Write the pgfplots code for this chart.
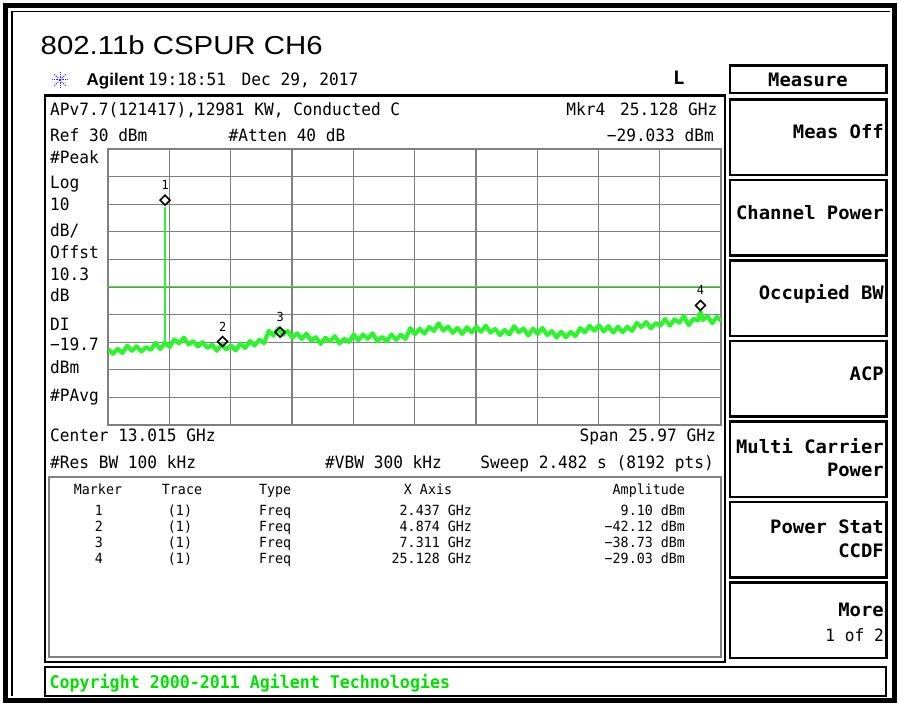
\documentclass[border=0pt]{standalone}
\usepackage{pgfplots}
\pgfplotsset{compat=1.18}
\usepackage{fontspec}
\setmainfont{Liberation Sans}
\newfontfamily\agfont[FakeStretch=0.95]{DejaVu Sans Mono}
\newfontfamily\agkey[FakeStretch=1.02]{DejaVu Sans Mono}
\newfontfamily\titlefont[FakeStretch=1.13]{Liberation Sans}
\definecolor{trace}{RGB}{45,245,45}
\definecolor{gridc}{RGB}{128,128,128}
\definecolor{cgreen}{RGB}{0,225,0}
\newcommand\fA{\agfont\fontsize{17bp}{20bp}\selectfont}
\newcommand\fT{\agfont\fontsize{14bp}{17bp}\selectfont}
\newcommand\fM{\agfont\fontsize{12.5bp}{15bp}\selectfont}
\newcommand\fK{\agkey\bfseries\fontsize{18.5bp}{21bp}\selectfont}
\newcommand\fC{\agfont\bfseries\fontsize{17.5bp}{20bp}\selectfont}
\tikzset{lw/.style={anchor=base west,inner sep=0pt},
         le/.style={anchor=base east,inner sep=0pt},
         lc/.style={anchor=base,inner sep=0pt}}
\begin{document}
\begin{tikzpicture}
\begin{axis}[at={(108.3bp,-425bp)}, anchor=south west, scale only axis,
  width=612.7bp, height=276bp,
  xmin=0.03, xmax=26.0, ymin=-70, ymax=30,
  xtick={2.627,5.224,7.821,10.418,13.015,15.612,18.209,20.806,23.403},
  ytick={-60,-50,-40,-30,-20,-10,0,10,20},
  xticklabels={}, yticklabels={}, major tick length=0pt,
  grid=major, major grid style={gridc, line width=1.3bp},
  axis line style={gridc, line width=2bp}]
% display line
\addplot[trace, line width=1.3bp] coordinates {(0.03,-19.7) (26.0,-19.7)};
% markers (diamonds, drawn above the marker point)
\addplot[only marks, mark=square, mark size=3.5bp,
  mark options={yshift=6.5bp, rotate=45, draw=black, fill=none, line width=1.6bp}]
  coordinates {(2.437,9.10) (4.874,-42.12) (7.311,-38.73) (25.128,-29.03)};
% carrier at marker 1
\addplot[trace, line width=1.4bp] coordinates {(2.437,-40.6) (2.437,9.10)};
% trace
\addplot[trace, line width=4.2bp, line join=round] coordinates {
(0.03,-42.6) (0.23,-44.2) (0.43,-42.4) (0.63,-43.9) (0.83,-41.3) (1.03,-43.1) (1.23,-41.5) (1.43,-43.4)
(1.63,-41.8) (1.83,-42.8) (2.03,-40.2) (2.23,-42.5) (2.43,-40.2) (2.63,-41.7) (2.83,-39.0) (3.03,-40.4)
(3.23,-38.3) (3.43,-40.8) (3.63,-39.6) (3.83,-41.6) (4.03,-40.0) (4.23,-42.1) (4.43,-40.9) (4.63,-43.1)
(4.83,-40.8) (5.03,-42.6) (5.23,-41.2) (5.43,-43.0) (5.63,-40.5) (5.83,-42.1) (6.03,-39.6) (6.23,-41.2)
(6.43,-39.1) (6.63,-40.3) (6.83,-35.9) (7.03,-37.6) (7.23,-35.0) (7.43,-37.3) (7.63,-35.9) (7.83,-38.4)
(8.03,-36.8) (8.23,-38.8) (8.43,-36.9) (8.63,-39.4) (8.83,-38.2) (9.03,-40.6) (9.23,-38.4) (9.43,-39.7)
(9.63,-37.8) (9.83,-40.5) (10.03,-38.8) (10.23,-39.9) (10.43,-37.2) (10.63,-39.3) (10.83,-37.2) (11.03,-38.8)
(11.23,-36.8) (11.43,-39.6) (11.63,-38.1) (11.83,-39.7) (12.03,-37.2) (12.23,-39.1) (12.43,-37.3) (12.63,-38.8)
(12.83,-34.9) (13.03,-37.1) (13.23,-35.1) (13.43,-36.9) (13.63,-34.5) (13.83,-35.9) (14.03,-33.2) (14.23,-35.8)
(14.43,-34.3) (14.63,-36.6) (14.83,-34.8) (15.03,-37.0) (15.23,-34.6) (15.43,-36.4) (15.63,-34.4) (15.83,-36.2)
(16.03,-34.0) (16.23,-36.5) (16.43,-35.2) (16.63,-37.4) (16.83,-35.6) (17.03,-37.2) (17.23,-34.2) (17.43,-36.4)
(17.63,-35.0) (17.83,-37.6) (18.03,-35.1) (18.23,-37.0) (18.43,-34.8) (18.63,-37.4) (18.83,-36.0) (19.03,-38.3)
(19.23,-36.2) (19.43,-38.2) (19.63,-36.3) (19.83,-37.8) (20.03,-34.9) (20.23,-36.4) (20.43,-34.1) (20.63,-35.8)
(20.83,-33.9) (21.03,-36.1) (21.23,-34.2) (21.43,-36.5) (21.63,-34.4) (21.83,-36.4) (22.03,-34.4) (22.23,-35.9)
(22.43,-33.0) (22.63,-34.5) (22.83,-32.7) (23.03,-35.0) (23.23,-33.1) (23.43,-34.0) (23.63,-31.6) (23.83,-34.0)
(24.03,-31.7) (24.23,-32.9) (24.43,-30.6) (24.63,-33.8) (24.83,-31.5) (25.03,-32.1) (25.13,-29.0) (25.23,-31.9)
(25.43,-30.6) (25.63,-33.1) (25.83,-30.8) (26.0,-32.3)};
% marker numbers
\addplot[draw=none, mark=none, nodes near coords, point meta=explicit symbolic,
  every node near coord/.append style={anchor=center, yshift=21.5bp, font=\fM, text=black, inner sep=0pt}]
  table[meta=l] {
x y l
2.437 9.10 1
4.874 -42.12 2
7.311 -38.73 3
25.128 -29.03 4
};
\end{axis}
\begin{scope}[x=1bp,y=-1bp]
\path[use as bounding box] (0,0) rectangle (899,707);
% outer frame
\draw[line width=4.5bp] (5.5,5.5) rectangle (894.5,700.5);
\draw[line width=1.5bp] (12,11.5) -- (12,695.5);
\draw[line width=1.5bp] (12,11.5) -- (890,11.5);
% title
\node[lw, font=\titlefont\fontsize{26bp}{30bp}\selectfont] at (40.5,55) {802.11b CSPUR CH6};
% agilent star
\foreach \a in {0,45,...,315} \draw[blue!85, line width=1bp, dash pattern=on 1.4bp off 0.9bp] (60,80) -- ++(\a:8);
\node[lw, font=\bfseries\fontsize{17bp}{20bp}\selectfont] at (86.5,86) {Agilent};
\node[lw, font=\fA] at (148,86) {19:18:51\hspace{6bp} Dec 29, 2017};
\node[lw, font=\fK] at (673,85) {L};
% measure header box
\draw[line width=2.5bp] (730,65.5) rectangle (886.5,93);
\node[lc, font=\fK] at (808,86.5) {Measure};
% main panel
\draw[line width=2.5bp] (45,95.5) rectangle (725,662);
\node[lw, font=\fA] at (50,115.5) {APv7.7(121417),12981 KW, Conducted C};
\node[le, font=\fA] at (717.5,115.5) {Mkr4\hspace{5bp} 25.128 GHz};
\node[lw, font=\fA] at (50,141.5) {Ref 30 dBm};
\node[lw, font=\fA] at (228.5,141.5) {\#Atten 40 dB};
\node[le, font=\fA] at (714,141.5) {−29.033 dBm};
% left column
\node[lw, font=\fA] at (50,163.3) {\#Peak};
\node[lw, font=\fA] at (50,188.3) {Log};
\node[lw, font=\fA] at (50,210) {10};
\node[lw, font=\fA] at (50,236.7) {dB/};
\node[lw, font=\fA] at (50,258.3) {Offst};
\node[lw, font=\fA] at (50,280) {10.3};
\node[lw, font=\fA] at (50,301.7) {dB};
\node[lw, font=\fA] at (50,330) {DI};
\node[lw, font=\fA] at (50,350) {−19.7};
\node[lw, font=\fA] at (50,373.3) {dBm};
\node[lw, font=\fA] at (50,401.7) {\#PAvg};
% bottom annotations
\node[lw, font=\fA] at (50,441.7) {Center 13.015 GHz};
\node[le, font=\fA] at (716,441.7) {Span 25.97 GHz};
\node[lw, font=\fA] at (50,468.3) {\#Res BW 100 kHz};
\node[lw, font=\fA] at (325,468.3) {\#VBW 300 kHz};
\node[le, font=\fA] at (714,468.3) {Sweep 2.482 s (8192 pts)};
% marker table
\draw[gridc, line width=2bp] (48.5,477) rectangle (721,657);
\node[lc, font=\fT] at (98,494) {Marker};
\node[lc, font=\fT] at (182,494) {Trace};
\node[lw, font=\fT] at (259,494) {Type};
\node[lc, font=\fT] at (428,494) {X Axis};
\node[le, font=\fT] at (685,494) {Amplitude};
\foreach \n/\yy/\xv/\amp in {1/515/2.437 GHz/9.10 dBm, 2/531/4.874 GHz/−42.12 dBm, 3/547/7.311 GHz/−38.73 dBm, 4/563/25.128 GHz/−29.03 dBm}{
  \node[lc, font=\fT] at (99,\yy) {\n};
  \node[lc, font=\fT] at (180,\yy) {(1)};
  \node[lw, font=\fT] at (259,\yy) {Freq};
  \node[le, font=\fT] at (472,\yy) {\xv};
  \node[le, font=\fT] at (685,\yy) {\amp};
}
% softkeys
\foreach \i in {0,...,6} \draw[line width=2.5bp] (730,{99.5+80.5*\i}) rectangle (886.5,{175+80.5*\i});
\node[le, font=\fK] at (884,138.3) {Meas Off};
\node[le, font=\fK] at (884,219) {Channel Power};
\node[le, font=\fK] at (884,299.5) {Occupied BW};
\node[le, font=\fK] at (884,380) {ACP};
\node[le, font=\fK] at (884,453.3) {Multi Carrier};
\node[le, font=\fK] at (884,476.7) {Power};
\node[le, font=\fK] at (884,533.3) {Power Stat};
\node[le, font=\fK] at (884,557.3) {CCDF};
\node[le, font=\fK] at (884,616.7) {More};
\node[le, font=\fA] at (884,641.7) {1 of 2};
% copyright bar
\draw[line width=2.5bp] (45,667) rectangle (886,696);
\node[lw, font=\fC, text=cgreen] at (49.5,688) {Copyright 2000-2011 Agilent Technologies};
\end{scope}
\end{tikzpicture}
\end{document}
